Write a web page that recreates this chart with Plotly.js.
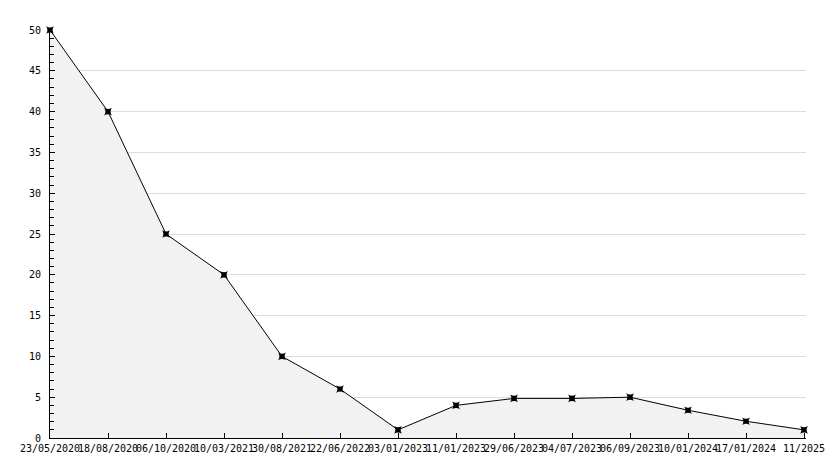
<!DOCTYPE html>
<html>
<head>
<meta charset="utf-8">
<script src="https://cdn.plot.ly/plotly-3.0.1.min.js"></script>
<style>html,body{margin:0;padding:0;background:#fff;}#chart{width:834px;height:468px;}</style>
</head>
<body>
<div id="chart"></div>
<script>
const dates = ["23/05/2020","18/08/2020","06/10/2020","10/03/2021","30/08/2021","22/06/2022","03/01/2023","11/01/2023","29/06/2023","04/07/2023","06/09/2023","10/01/2024","17/01/2024","11/2025"];
const values = [50, 40, 25, 20, 10, 6, 1, 4, 4.85, 4.85, 5, 3.4, 2.05, 1];
const yTicks = [0, 5, 10, 15, 20, 25, 30, 35, 40, 45, 50];

const trace = {
  x: dates,
  y: values,
  type: 'scatter',
  mode: 'lines+markers',
  line: {color: '#000', width: 1},
  marker: {color: '#000', size: 7, symbol: 'star-square', line: {width: 0}},
  fill: 'tozeroy',
  fillcolor: '#f2f2f2',
  cliponaxis: false,
  hoverinfo: 'x+y'
};

const layout = {
  width: 834, height: 468,
  margin: {l: 50, r: 28, t: 30, b: 30},
  paper_bgcolor: '#fff', plot_bgcolor: '#fff',
  showlegend: false,
  font: {family: 'DejaVu Sans Mono, monospace', size: 10, color: '#000'},
  xaxis: {
    type: 'category',
    range: [0, 13.034],
    showline: true, linecolor: '#000', linewidth: 1,
    ticks: 'inside', ticklen: 5, tickcolor: '#000',
    showgrid: false, zeroline: false,
    tickangle: 0,
    ticklabelstandoff: 1,
    tickfont: {family: 'DejaVu Sans Mono, monospace', size: 10, color: '#000'}
  },
  yaxis: {
    range: [0, 50],
    tickvals: yTicks,
    showline: true, linecolor: '#000', linewidth: 1,
    ticks: 'inside', ticklen: 5, tickcolor: '#000',
    showgrid: true, gridcolor: '#dcdcdc', gridwidth: 1,
    zeroline: false,
    ticklabelstandoff: 6,
    minor: {dtick: 1, ticks: 'inside', ticklen: 4, tickcolor: '#000', showgrid: false},
    tickfont: {family: 'DejaVu Sans Mono, monospace', size: 10, color: '#000'}
  }
};

Plotly.newPlot('chart', [trace], layout, {displayModeBar: false, staticPlot: true});
</script>
</body>
</html>
